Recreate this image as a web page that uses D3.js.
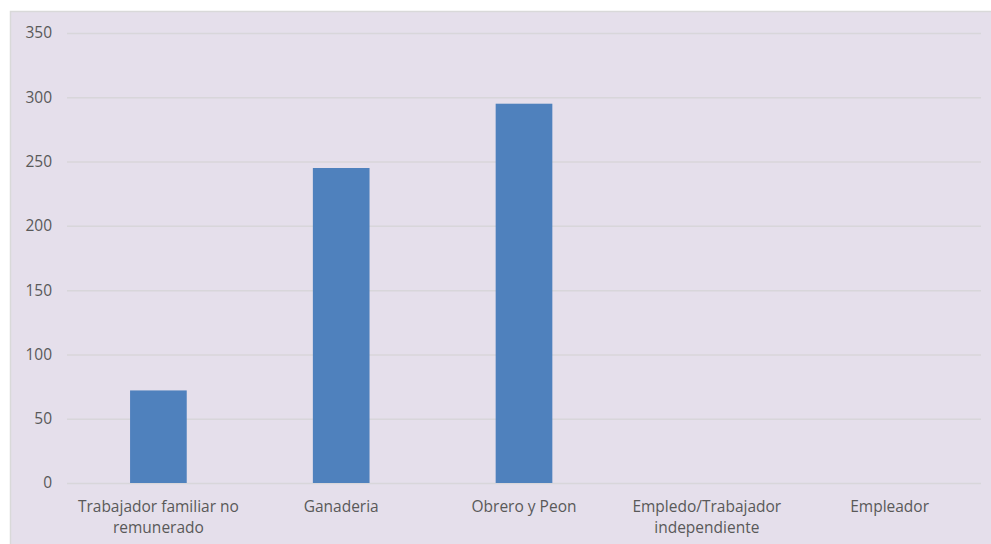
<!DOCTYPE html>
<html><head><meta charset="utf-8">
<script src="https://cdn.jsdelivr.net/npm/d3@7"></script>
<style>body{margin:0;background:#fff;}svg{display:block;font-family:"Open Sans","Liberation Sans",sans-serif;}</style>
</head><body>
<svg id="c" width="991" height="544"></svg>
<script>
const categories = [["Trabajador familiar no","remunerado"],["Ganaderia"],["Obrero y Peon"],["Empledo/Trabajador","independiente"],["Empleador"]];
const values = [72, 245, 295, 0, 0];
const yTicks = [0, 50, 100, 150, 200, 250, 300, 350];

(function(){
const svg = d3.select("#c");
svg.append("rect").attr("x",10.5).attr("y",11.5).attr("width",990).attr("height",540)
  .attr("fill","#e5dfeb").attr("stroke","#d9d9d9").attr("stroke-width",1.5);

const pLeft=67, pRight=981, pTop=33, pBottom=483;
const x = d3.scaleBand().domain(d3.range(categories.length)).range([pLeft,pRight]).paddingInner(0.69).paddingOuter(0.345);
const y = d3.scaleLinear().domain([0,350]).range([pBottom,pTop]);

const yAxis = d3.axisLeft(y).tickValues(yTicks).tickSize(-(pRight-pLeft)).tickPadding(15);
const gy = svg.append("g").attr("transform",`translate(${pLeft},0)`).call(yAxis);
gy.select(".domain").remove();
gy.selectAll(".tick line").attr("stroke","#d8d6da").attr("stroke-width",1.5);
gy.selectAll(".tick text").attr("fill","#595959").attr("font-family","'Open Sans',sans-serif").style("font-size","15.5px");

svg.append("g").selectAll("rect").data(values).join("rect")
  .attr("x",(d,i)=>x(i)).attr("width",x.bandwidth())
  .attr("y",d=>y(d)).attr("height",d=>pBottom-y(d))
  .attr("fill","#4f81bd");

const xAxis = d3.axisBottom(x).tickSize(0).tickFormat(()=> "");
const gx = svg.append("g").attr("transform",`translate(0,${pBottom})`).call(xAxis);
gx.select(".domain").remove();
gx.selectAll(".tick").each(function(d){
  const t = d3.select(this).append("text").attr("fill","#595959").attr("text-anchor","middle")
    .attr("font-family","'Open Sans',sans-serif").style("font-size","15.5px");
  categories[d].forEach((line,j)=>{
    t.append("tspan").attr("x",0).attr("y",29+j*21).text(line);
  });
});
})();
</script>
</body></html>
